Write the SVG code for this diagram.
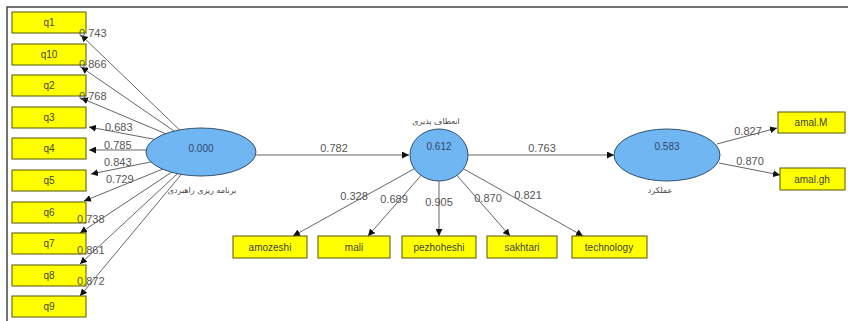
<svg xmlns="http://www.w3.org/2000/svg" width="848" height="321" viewBox="0 0 848 321">
<style>
.box{fill:#ffff00;stroke:#55550a;stroke-width:1}
.bt{font-family:"Liberation Sans",Arial,sans-serif;font-size:10px;fill:#444;text-anchor:middle}
.lv{fill:#6fb6f2;stroke:#34506e;stroke-width:1}
.vt{font-family:"Liberation Sans",Arial,sans-serif;font-size:10px;fill:#34476a;text-anchor:middle}
.fa{font-family:"DejaVu Sans","Noto Sans",sans-serif;font-size:8px;fill:#444;text-anchor:middle}
.ln{stroke:#666;stroke-width:1;fill:none;marker-end:url(#ah)}
.lb{font-family:"Liberation Sans",Arial,sans-serif;font-size:11px;fill:#555}
.lc{font-family:"Liberation Sans",Arial,sans-serif;font-size:11px;fill:#555;text-anchor:middle}
</style>
<defs>
<marker id="ah" viewBox="0 0 10 10" refX="10" refY="5" markerWidth="7" markerHeight="7" markerUnits="userSpaceOnUse" orient="auto">
<path d="M0,0 L10,5 L0,10 z" fill="#111"/>
</marker>
</defs>
<rect width="848" height="321" fill="#fff"/>
<path d="M7,321 L7,7 L848,7" stroke="#444" stroke-width="1.5" fill="none"/>
<g id="connectors">
<path class="ln" d="M190,140 L81,35"/>
<path class="ln" d="M190,142 L81,67"/>
<path class="ln" d="M190,144 L81,98"/>
<path class="ln" d="M190,146 L89,127"/>
<path class="ln" d="M190,150 L89,150"/>
<path class="ln" d="M190,154 L91,174"/>
<path class="ln" d="M190,158 L84,201"/>
<path class="ln" d="M190,160 L80,233"/>
<path class="ln" d="M190,162 L80,264"/>
<path class="ln" d="M190,164 L80,296"/>
<path class="ln" d="M256,155 L409,155"/>
<path class="ln" d="M468,155 L614,155"/>
<path class="ln" d="M439,155 L293,236"/>
<path class="ln" d="M439,155 L368,236"/>
<path class="ln" d="M439,155 L439,236"/>
<path class="ln" d="M439,155 L510,236"/>
<path class="ln" d="M439,155 L583,236"/>
<path class="ln" d="M717,144 L777,128"/>
<path class="ln" d="M719,163 L780,175"/>
</g>
<g id="q1"><rect class="box" x="12" y="12" width="74" height="21"/><text class="bt" x="49" y="26">q1</text></g>
<g id="q10"><rect class="box" x="12" y="44" width="74" height="21"/><text class="bt" x="49" y="58">q10</text></g>
<g id="q2"><rect class="box" x="12" y="75" width="74" height="21"/><text class="bt" x="49" y="89">q2</text></g>
<g id="q3"><rect class="box" x="12" y="107" width="74" height="21"/><text class="bt" x="49" y="121">q3</text></g>
<g id="q4"><rect class="box" x="12" y="138" width="74" height="21"/><text class="bt" x="49" y="152">q4</text></g>
<g id="q5"><rect class="box" x="12" y="170" width="74" height="21"/><text class="bt" x="49" y="184">q5</text></g>
<g id="q6"><rect class="box" x="12" y="202" width="74" height="21"/><text class="bt" x="49" y="216">q6</text></g>
<g id="q7"><rect class="box" x="12" y="233" width="74" height="21"/><text class="bt" x="49" y="247">q7</text></g>
<g id="q8"><rect class="box" x="12" y="265" width="74" height="21"/><text class="bt" x="49" y="279">q8</text></g>
<g id="q9"><rect class="box" x="12" y="296" width="74" height="21"/><text class="bt" x="49" y="310">q9</text></g>
<g id="planning"><ellipse class="lv" cx="201" cy="152" rx="55" ry="24"/><text class="vt" x="201" y="152">0.000</text><text class="fa" x="202" y="193">برنامه ریزی راهبردی</text></g>
<g id="flexibility"><ellipse class="lv" cx="439" cy="155" rx="29" ry="26"/><text class="vt" x="439" y="150">0.612</text><text class="fa" x="436" y="124">انعطاف پذیری</text></g>
<g id="performance"><ellipse class="lv" cx="667" cy="155" rx="53" ry="26"/><text class="vt" x="667" y="150">0.583</text><text class="fa" x="660" y="193">عملکرد</text></g>
<g id="amozeshi"><rect class="box" x="233" y="236" width="74" height="22"/><text class="bt" x="270" y="251">amozeshi</text></g>
<g id="mali"><rect class="box" x="318" y="236" width="72" height="22"/><text class="bt" x="354" y="251">mali</text></g>
<g id="pezhoheshi"><rect class="box" x="402" y="236" width="74" height="22"/><text class="bt" x="439" y="251">pezhoheshi</text></g>
<g id="sakhtari"><rect class="box" x="487" y="236" width="70" height="22"/><text class="bt" x="522" y="251">sakhtari</text></g>
<g id="technology"><rect class="box" x="572" y="236" width="75" height="22"/><text class="bt" x="609" y="251">technology</text></g>
<g id="amalM"><rect class="box" x="778" y="112" width="67" height="21"/><text class="bt" x="811" y="126">amal.M</text></g>
<g id="amalgh"><rect class="box" x="780" y="168" width="65" height="22"/><text class="bt" x="812" y="183">amal.gh</text></g>
<g id="connector-labels">
<text class="lb" x="79" y="37">0.743</text>
<text class="lb" x="79" y="68">0.866</text>
<text class="lb" x="79" y="100">0.768</text>
<text class="lb" x="105" y="131">0.683</text>
<text class="lb" x="104" y="149">0.785</text>
<text class="lb" x="104" y="166">0.843</text>
<text class="lb" x="106" y="183">0.729</text>
<text class="lb" x="77" y="223">0.738</text>
<text class="lb" x="77" y="254">0.861</text>
<text class="lb" x="77" y="285">0.872</text>
<text class="lc" x="334" y="152">0.782</text>
<text class="lc" x="542" y="152">0.763</text>
<text class="lc" x="354" y="200">0.328</text>
<text class="lc" x="394" y="203">0.689</text>
<text class="lc" x="439" y="206">0.905</text>
<text class="lc" x="488" y="202">0.870</text>
<text class="lc" x="528" y="199">0.821</text>
<text class="lc" x="748" y="135">0.827</text>
<text class="lc" x="750" y="165">0.870</text>
</g>
</svg>
